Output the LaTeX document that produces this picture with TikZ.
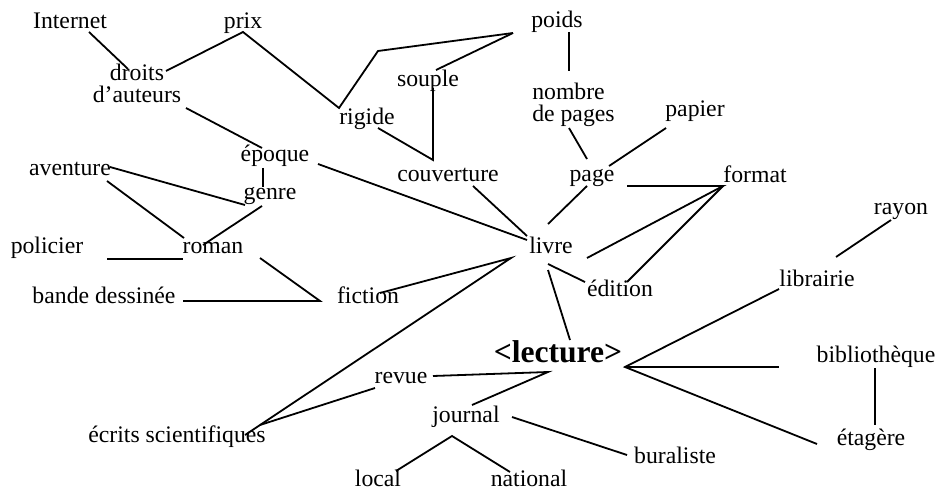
\documentclass[tikz,border=0pt]{standalone}
\usepackage{fontspec}
\setmainfont{Liberation Serif}
\begin{document}
\begin{tikzpicture}[x=0.75pt,y=-0.75pt,
  lbl/.style={anchor=base,inner sep=0pt,font=\fontsize{17.8}{16.5}\selectfont},
  main/.style={anchor=base,inner sep=0pt,font=\fontsize{23.7}{26}\selectfont\bfseries},
  link/.style={line width=1.35pt,line join=miter}]
\useasboundingbox (0,0) rectangle (938,491);
% labels
\node[lbl] (internet) at (70,29) {Internet};
\node[lbl] (prix) at (243,29) {prix};
\node[lbl] (droits) at (137,81) {\vtop{\halign{\hfil#\hfil\cr droits\cr d’auteurs\cr}}};
\node[lbl] (poids) at (557,28) {poids};
\node[lbl] (souple) at (428,87) {souple};
\node[lbl] (rigide) at (367,125) {rigide};
\node[lbl,anchor=base west] (nombre) at (532,100) {\vtop{\halign{#\hfil\cr nombre\cr de pages\cr}}};
\node[lbl] (papier) at (695,117) {papier};
\node[lbl] (epoque) at (275,162) {époque};
\node[lbl] (couverture) at (448,182) {couverture};
\node[lbl] (page) at (592,182) {page};
\node[lbl] (format) at (755,183) {format};
\node[lbl] (aventure) at (70,176) {aventure};
\node[lbl] (genre) at (270,200) {genre};
\node[lbl] (rayon) at (901,215) {rayon};
\node[lbl] (policier) at (47,254) {policier};
\node[lbl] (roman) at (213,254) {roman};
\node[lbl] (livre) at (551,254) {livre};
\node[lbl] (librairie) at (817,287) {librairie};
\node[lbl] (edition) at (620,297) {édition};
\node[lbl] (bd) at (104,304) {bande dessinée};
\node[lbl] (fiction) at (368,304) {fiction};
\node[main] (lecture) at (558,363) {<lecture>};
\node[lbl] (biblio) at (876,363) {bibliothèque};
\node[lbl] (revue) at (401,383) {revue};
\node[lbl] (journal) at (466,422) {journal};
\node[lbl] (ecrits) at (177,442) {écrits scientifiques};
\node[lbl] (etagere) at (871,445) {étagère};
\node[lbl] (buraliste) at (675,463) {buraliste};
\node[lbl] (local) at (378,486) {local};
\node[lbl] (national) at (529,486) {national};
% connector end points
\coordinate (iA) at (89,32);   \coordinate (iB) at (128,69);
\coordinate (pA) at (166,71);  \coordinate (pB) at (243,32);
\coordinate (pC) at (339,108); \coordinate (pD) at (378,51);
\coordinate (pE) at (513,33);  \coordinate (sA) at (436,70);
\coordinate (rA) at (378,128); \coordinate (rB) at (433,160);
\coordinate (rC) at (433,88);
\coordinate (nA) at (569,32);  \coordinate (nB) at (569,71);
\coordinate (nC) at (569,128); \coordinate (nD) at (587,159);
\coordinate (paA) at (666,128); \coordinate (paB) at (609,166);
\coordinate (dA) at (186,108); \coordinate (dB) at (262,148);
\coordinate (eA) at (263,168); \coordinate (eB) at (263,187);
\coordinate (aA) at (110,167); \coordinate (aB) at (245,205);
\coordinate (aC) at (107,181); \coordinate (aD) at (184,238);
\coordinate (gA) at (262,206); \coordinate (gB) at (203,245);
\coordinate (eC) at (318,164); \coordinate (lA) at (527,240);
\coordinate (cA) at (473,186); \coordinate (lB) at (527,236);
\coordinate (pgA) at (587,186); \coordinate (lC) at (548,224);
\coordinate (pgB) at (627,186); \coordinate (fA) at (723,186);
\coordinate (lD) at (587,258); \coordinate (edA) at (627,282);
\coordinate (ryA) at (891,220); \coordinate (lbA) at (836,257);
\coordinate (lE) at (548,264); \coordinate (edB) at (585,282);
\coordinate (lF) at (548,270); \coordinate (leA) at (570,340);
\coordinate (fiA) at (380,293); \coordinate (lG) at (511,258);
\coordinate (ecA) at (245,435); \coordinate (ecB) at (260,425);
\coordinate (rvA) at (375,388); \coordinate (rvB) at (433,376);
\coordinate (leB) at (548,372); \coordinate (jA) at (472,405);
\coordinate (jB) at (512,417); \coordinate (buA) at (627,455);
\coordinate (loA) at (396,471); \coordinate (jC) at (452,436);
\coordinate (naA) at (510,472);
\coordinate (poA) at (107,259); \coordinate (roA) at (183,259);
\coordinate (roB) at (260,258); \coordinate (fiB) at (320,301);
\coordinate (bdA) at (183,301);
\coordinate (leC) at (625,367); \coordinate (lbB) at (779,289);
\coordinate (biA) at (779,367); \coordinate (etA) at (817,444);
\coordinate (biB) at (875,368); \coordinate (etB) at (875,425);
% connectors
\draw[link] (iA) -- (iB);
\draw[link] (pA) -- (pB) -- (pC) -- (pD) -- (pE);
\draw[link] (sA) -- (pE);
\draw[link] (rA) -- (rB) -- (rC);
\draw[link] (nA) -- (nB);
\draw[link] (nC) -- (nD);
\draw[link] (paA) -- (paB);
\draw[link] (dA) -- (dB);
\draw[link] (eA) -- (eB);
\draw[link] (aA) -- (aB);
\draw[link] (aC) -- (aD);
\draw[link] (gA) -- (gB);
\draw[link] (eC) -- (lA);
\draw[link] (cA) -- (lB);
\draw[link] (pgA) -- (lC);
\draw[link] (pgB) -- (fA) -- (lD);
\draw[link] (fA) -- (edA);
\draw[link] (ryA) -- (lbA);
\draw[link] (lE) -- (edB);
\draw[link] (lF) -- (leA);
\draw[link] (fiA) -- (lG) -- (ecA);
\draw[link] (ecB) -- (rvA);
\draw[link] (rvB) -- (leB) -- (jA);
\draw[link] (jB) -- (buA);
\draw[link] (loA) -- (jC) -- (naA);
\draw[link] (poA) -- (roA);
\draw[link] (roB) -- (fiB) -- (bdA);
\draw[link] (lbB) -- (leC) -- (etA);
\draw[link] (leC) -- (biA);
\draw[link] (biB) -- (etB);
\end{tikzpicture}
\end{document}
